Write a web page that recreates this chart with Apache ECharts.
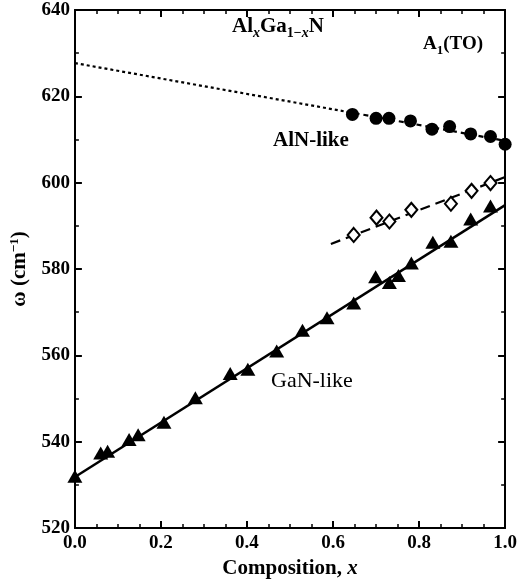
<!DOCTYPE html>
<html>
<head>
<meta charset="utf-8">
<script src="https://cdn.jsdelivr.net/npm/echarts@6/dist/echarts.min.js"></script>
<style>html,body{margin:0;padding:0;background:#fff}#c{width:520px;height:584px}</style>
</head>
<body>
<div id="c"></div>
<script>
// AlN-like mode (filled circles)
const alnX = [0.645, 0.70, 0.73, 0.78, 0.83, 0.871, 0.92, 0.966, 1.00];
const alnY = [615.8, 614.9, 614.9, 614.3, 612.4, 613.0, 611.3, 610.7, 608.9];
// open diamonds
const diaX = [0.648, 0.701, 0.731, 0.782, 0.874, 0.922, 0.966];
const diaY = [587.9, 591.9, 591.0, 593.7, 595.1, 598.1, 599.9];
// GaN-like mode (filled triangles)
const ganX = [0.0, 0.06, 0.076, 0.126, 0.147, 0.207, 0.28, 0.361, 0.402, 0.469, 0.529, 0.586, 0.648, 0.699, 0.731, 0.752, 0.782, 0.832, 0.874, 0.92, 0.966];
const ganY = [532.0, 537.4, 537.8, 540.5, 541.6, 544.5, 550.2, 555.8, 556.8, 561.0, 565.8, 568.7, 572.1, 578.2, 576.9, 578.5, 581.4, 586.2, 586.4, 591.6, 594.6];
// fit lines
const alnFitDotX = [0.0, 0.65];
const alnFitDotY = [627.7, 616.1];
const alnFitDashX = [0.65, 1.0];
const alnFitDashY = [616.1, 609.7];
const diaFitX = [0.595, 1.0];
const diaFitY = [585.8, 601.3];
const ganFitX = [0.0, 1.0];
const ganFitY = [531.8, 594.8];
// axis ticks
const xTicks = ['0.0', '0.2', '0.4', '0.6', '0.8', '1.0'];
const yTicks = [520, 540, 560, 580, 600, 620, 640];

const pair = (xs, ys) => xs.map((x, i) => [x, ys[i]]);
const FF = '"Liberation Serif", "DejaVu Serif", serif';

function axisParts(split) {
  return {
    axisLine: { show: true, onZero: false, lineStyle: { color: '#000', width: 2 } },
    axisTick: { show: true, inside: true, length: 7, lineStyle: { color: '#000', width: 2 } },
    minorTick: { show: true, splitNumber: split, length: 4, lineStyle: { color: '#000', width: 1.5 } },
    splitLine: { show: false },
    minorSplitLine: { show: false }
  };
}

const chart = echarts.init(document.getElementById('c'), null, { renderer: 'canvas' });
chart.setOption({
  animation: false,
  backgroundColor: '#fff',
  grid: { left: 73, right: 12, top: 10, bottom: 53 },
  xAxis: [
    Object.assign({
      type: 'value', min: 0, max: 1, interval: 0.2, position: 'bottom',
      axisLabel: { show: true, margin: 6, color: '#000', fontFamily: FF, fontWeight: 'bold', fontSize: 19,
        formatter: (v) => xTicks[Math.round(v / 0.2)] },
      name: '{t|Composition, }{i|x}', nameLocation: 'middle', nameGap: 30,
      nameTextStyle: { rich: {
        t: { fontFamily: FF, fontWeight: 'bold', fontSize: 21, color: '#000' },
        i: { fontFamily: FF, fontWeight: 'bold', fontStyle: 'italic', fontSize: 21, color: '#000' } } }
    }, axisParts(4)),
    Object.assign({
      type: 'value', min: 0, max: 1, interval: 0.2, position: 'top',
      axisLabel: { show: false }
    }, axisParts(4))
  ],
  yAxis: [
    Object.assign({
      type: 'value', min: yTicks[0], max: yTicks[yTicks.length - 1], interval: 20, position: 'left',
      axisLabel: { show: true, margin: 5, color: '#000', fontFamily: FF, fontWeight: 'bold', fontSize: 19 },
      name: '{t|ω (cm}{s|−1}{t|)}', nameLocation: 'middle', nameGap: 35, nameRotate: 90,
      nameTextStyle: { rich: {
        t: { fontFamily: FF, fontWeight: 'bold', fontSize: 21, color: '#000', lineHeight: 24, verticalAlign: 'middle' },
        s: { fontFamily: FF, fontWeight: 'bold', fontSize: 13, color: '#000', lineHeight: 24, verticalAlign: 'top' } } }
    }, axisParts(2)),
    Object.assign({
      type: 'value', min: yTicks[0], max: yTicks[yTicks.length - 1], interval: 20, position: 'right',
      axisLabel: { show: false }
    }, axisParts(2))
  ],
  graphic: [
    { type: 'text', left: 232, top: 16, z: 100,
      style: { text: '{n|Al}{si|x}{n|Ga}{s|1−}{si|x}{n|N}', rich: {
        n: { fontFamily: FF, fontWeight: 'bold', fontSize: 21, fill: '#000', lineHeight: 28, verticalAlign: 'middle' },
        s: { fontFamily: FF, fontWeight: 'bold', fontSize: 14, fill: '#000', lineHeight: 28, verticalAlign: 'bottom' },
        si: { fontFamily: FF, fontWeight: 'bold', fontStyle: 'italic', fontSize: 14, fill: '#000', lineHeight: 28, verticalAlign: 'bottom' } } } },
    { type: 'text', left: 423, top: 35, z: 100,
      style: { text: '{n|A}{s|1}{n|(TO)}', rich: {
        n: { fontFamily: FF, fontWeight: 'bold', fontSize: 19, fill: '#000', lineHeight: 26, verticalAlign: 'middle' },
        s: { fontFamily: FF, fontWeight: 'bold', fontSize: 13, fill: '#000', lineHeight: 26, verticalAlign: 'bottom' } } } },
    { type: 'text', left: 273, top: 130, z: 100,
      style: { text: 'AlN-like', fontFamily: FF, fontWeight: 'bold', fontSize: 21, fill: '#000' } },
    { type: 'text', left: 271, top: 370, z: 100,
      style: { text: 'GaN-like', fontFamily: FF, fontWeight: 'normal', fontSize: 22, fill: '#000' } }
  ],
  series: [
    { type: 'line', data: pair(alnFitDotX, alnFitDotY), showSymbol: false, symbol: 'none',
      lineStyle: { color: '#000', width: 2.2, type: [3, 3] }, z: 2 },
    { type: 'line', data: pair(alnFitDashX, alnFitDashY), showSymbol: false, symbol: 'none',
      lineStyle: { color: '#000', width: 2.2, type: [5, 4] }, z: 2 },
    { type: 'line', data: pair(diaFitX, diaFitY), showSymbol: false, symbol: 'none',
      lineStyle: { color: '#000', width: 2.2, type: [10, 6] }, z: 2 },
    { type: 'line', data: pair(ganFitX, ganFitY), showSymbol: false, symbol: 'none',
      lineStyle: { color: '#000', width: 2.5 }, z: 2 },
    { type: 'scatter', data: pair(alnX, alnY), symbol: 'circle', symbolSize: 13,
      itemStyle: { color: '#000', opacity: 1 }, z: 5 },
    { type: 'scatter', data: pair(diaX, diaY), symbol: 'diamond', symbolSize: [12, 14],
      itemStyle: { color: '#fff', borderColor: '#000', borderWidth: 2, opacity: 1 }, z: 5 },
    { type: 'scatter', data: pair(ganX, ganY), symbol: 'triangle', symbolSize: [15, 13],
      itemStyle: { color: '#000', opacity: 1 }, z: 5 }
  ]
});
</script>
</body>
</html>
